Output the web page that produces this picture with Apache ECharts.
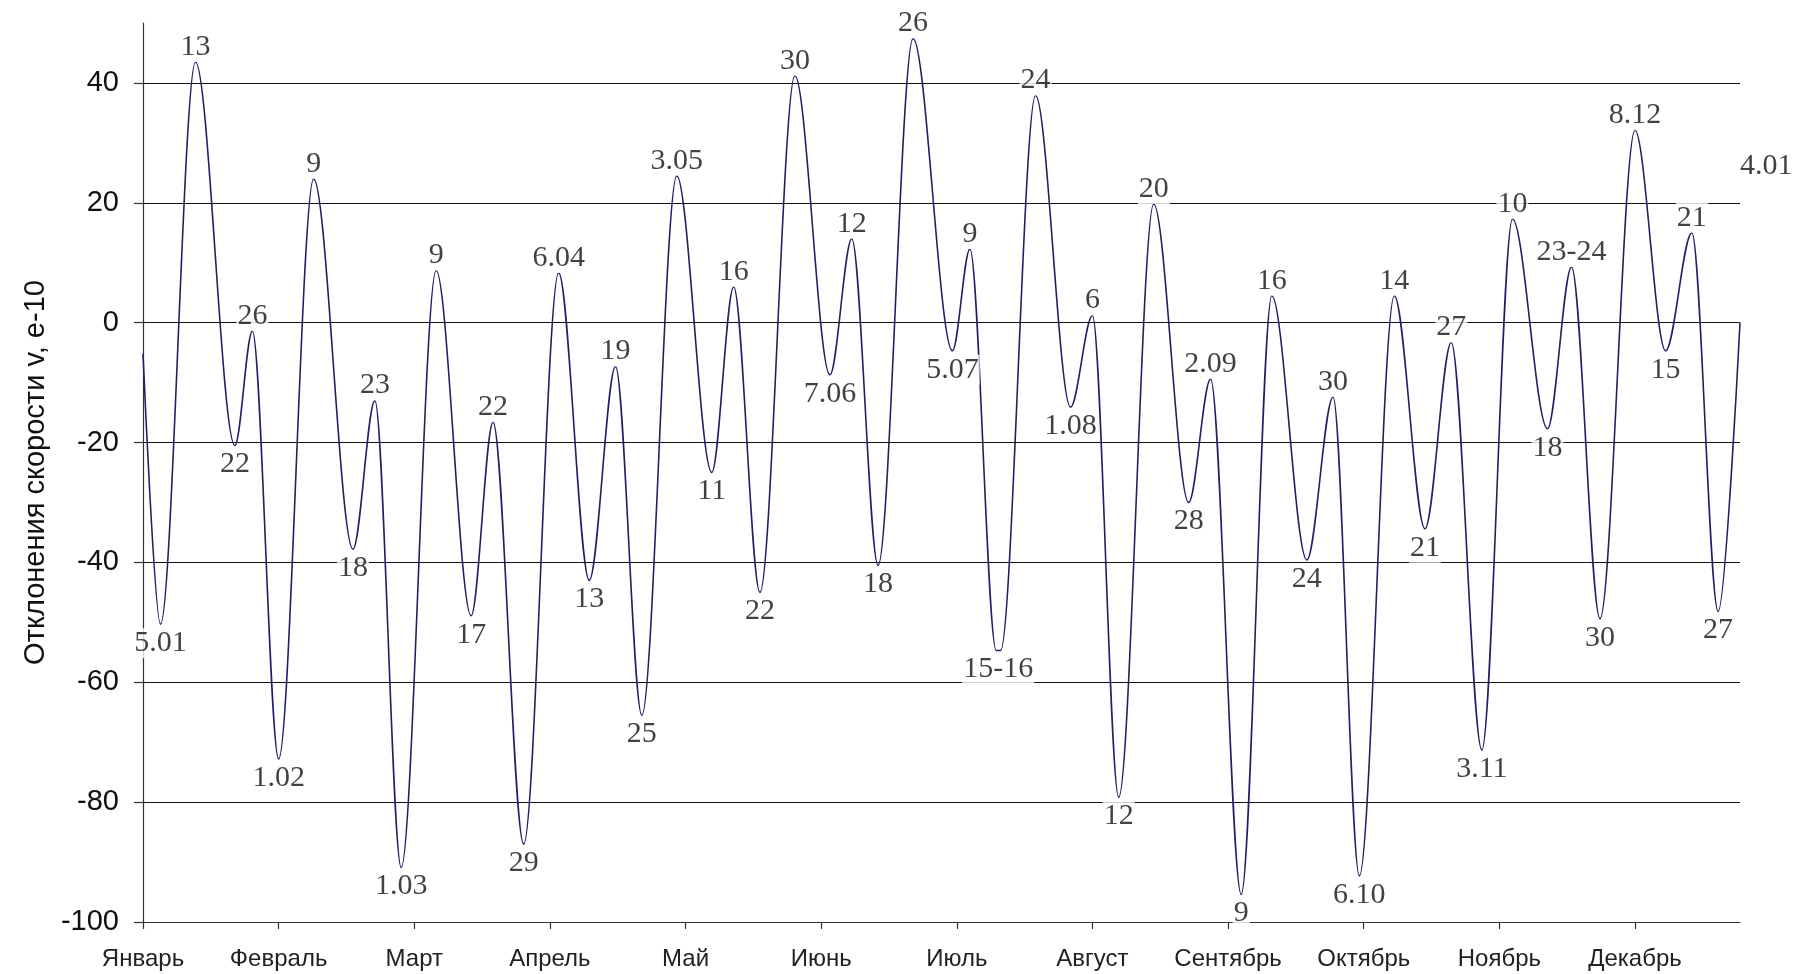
<!DOCTYPE html>
<html><head><meta charset="utf-8">
<script src="https://cdn.jsdelivr.net/npm/echarts@6/dist/echarts.min.js"></script>
<style>html,body{margin:0;padding:0;background:#fff}#c{width:1794px;height:974px}</style>
</head><body><div id="c"></div>
<script>
// Month tick labels (one tick every 31 days)
const monthLabels = ['Январь','Февраль','Март','Апрель','Май','Июнь','Июль','Август','Сентябрь','Октябрь','Ноябрь','Декабрь'];
const monthTickDays = [0,31,62,93,124,155,186,217,248,279,310,341];
const yTickValues = [-100,-80,-60,-40,-20,0,20,40];

// Day of year (0 = 1 Jan) of each turning point of the curve, and its value (e-10)
const days = [0, 4, 12, 21, 25, 31, 39, 48, 53, 59, 67, 75, 80, 87, 95, 102, 108, 114, 122, 130, 135, 141, 149, 157, 162, 168, 176, 185, 189, 195, 196, 204, 212, 217, 223, 231, 239, 244, 251, 258, 266, 272, 278, 286, 293, 299, 306, 313, 321, 326.5, 333, 341, 348, 354, 360, 365];
const values = [-5.2, -50.3, 43.5, -20.5, -1.4, -72.8, 24.0, -37.8, -13.0, -90.9, 8.7, -48.9, -16.6, -87.0, 8.3, -43.0, -7.3, -65.5, 24.5, -25.0, 6.0, -45.0, 41.2, -8.7, 14.0, -40.5, 47.4, -4.7, 12.3, -54.7, -54.7, 37.9, -14.1, 1.2, -79.2, 19.8, -30.0, -9.4, -95.4, 4.5, -39.6, -12.4, -92.3, 4.5, -34.4, -3.3, -71.3, 17.3, -17.7, 9.3, -49.4, 32.1, -4.7, 15.0, -48.2, 0];
// Date labels written next to each turning point
const pointLabels = ['', '5.01', '13', '22', '26', '1.02', '9', '18', '23', '1.03', '9', '17', '22', '29', '6.04', '13', '19', '25', '3.05', '11', '16', '22', '30', '7.06', '12', '18', '26', '5.07', '9', '15-16', '', '24', '1.08', '6', '12', '20', '28', '2.09', '9', '16', '24', '30', '6.10', '14', '21', '27', '3.11', '10', '18', '23-24', '30', '8.12', '15', '21', '27', ''];
// Label beyond the right edge (next year's turning point)
const extraLabelDays = [371];
const extraLabelValues = [23.6];
const extraLabelTexts = ['4.01'];

const labelData = [];
days.forEach((d, i) => {
  if (!pointLabels[i]) return;
  const isPeak = i > 0 && values[i] > values[i - 1];
  const flat = values[i + 1] === values[i];
  labelData.push({
    value: [d, values[i]], name: pointLabels[i],
    label: { position: isPeak ? 'top' : 'bottom', distance: isPeak ? 0 : 4, offset: flat ? [2, 0] : [0, 0] }
  });
});
extraLabelDays.forEach((d, i) => {
  labelData.push({ value: [d, extraLabelValues[i]], name: extraLabelTexts[i], label: { position: 'top', distance: 0 } });
});

const chart = echarts.init(document.getElementById('c'), null, { renderer: 'canvas' });
chart.setOption({
  backgroundColor: '#fff',
  animation: false,
  grid: { left: 143, right: 54, top: 23, bottom: 52, containLabel: false },
  xAxis: {
    type: 'value', min: 0, max: 365,
    axisLine: { show: true, onZero: false, lineStyle: { color: '#333', width: 1.2 } },
    axisTick: { show: true, customValues: monthTickDays, length: 7, lineStyle: { color: '#333', width: 1.2 } },
    axisLabel: {
      customValues: monthTickDays,
      formatter: v => { const k = monthTickDays.indexOf(v); return k >= 0 ? monthLabels[k] : ''; },
      fontFamily: 'Liberation Sans', fontSize: 24, color: '#222', margin: 25
    },
    splitLine: { show: false }
  },
  yAxis: {
    type: 'value', min: -100, max: 50, interval: 20,
    name: 'Отклонения скорости v, e-10', nameLocation: 'middle', nameGap: 92,
    nameTextStyle: { fontFamily: 'Liberation Sans', fontSize: 29, color: '#111' },
    axisLine: { show: true, lineStyle: { color: '#333', width: 1.2 } },
    axisTick: { show: true, customValues: yTickValues, length: 9, lineStyle: { color: '#333', width: 1.2 } },
    axisLabel: { customValues: yTickValues, fontFamily: 'Liberation Sans', fontSize: 29, color: '#111', margin: 24 },
    splitLine: { show: true, showMinLine: false, lineStyle: { color: '#111', width: 1.2 } }
  },
  series: [
    {
      type: 'line', data: days.map((d, i) => [d, values[i]]),
      smooth: 0.33, smoothMonotone: 'x', showSymbol: false, symbol: 'none', silent: true,
      lineStyle: { color: '#20206a', width: 1.6 }, z: 3
    },
    {
      type: 'scatter', data: labelData, symbolSize: 0, clip: false, silent: true, z: 5,
      label: {
        show: true, formatter: '{b}',
        fontFamily: 'Liberation Serif', fontSize: 30, color: '#111',
        backgroundColor: '#fff', padding: [0, 1]
      }
    }
  ]
});
</script></body></html>
